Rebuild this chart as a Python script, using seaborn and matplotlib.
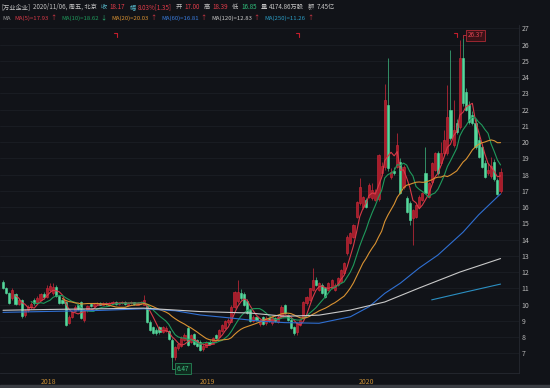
import numpy as np
import pandas as pd
import matplotlib
matplotlib.use("Agg")
import matplotlib.pyplot as plt
import seaborn as sns

# weekly candles, 万业企业, ~Sep 2017 .. 2020/11/06
opens = [11.40, 11.00, 10.72, 10.40, 10.62, 10.05, 10.28, 9.35, 9.65, 9.85,
         10.28, 10.10, 10.30, 10.68, 10.45, 10.90, 10.70, 11.10, 10.50, 10.28,
         10.18, 8.85, 9.25, 9.60, 9.95, 10.18, 9.05, 9.65, 10.05, 9.92,
         10.02, 10.12, 10.00, 10.12, 10.00, 10.10, 10.16, 10.02, 10.10, 10.15,
         10.00, 10.08, 10.15, 10.00, 10.10, 9.98, 9.90, 8.95, 8.60, 8.45,
         8.62, 8.30, 8.40, 8.35, 7.80, 6.78, 7.30, 7.45, 7.80, 8.55,
         7.72, 8.20, 7.80, 7.70, 7.25, 7.42, 7.72, 7.60, 8.12, 8.02,
         8.35, 8.55, 8.90, 8.95, 9.85, 10.20, 10.70, 10.65, 10.25, 9.65,
         9.00, 9.25, 8.78, 9.25, 8.85, 9.18, 8.85, 9.20, 8.90, 9.25,
         9.97, 9.36, 9.05, 8.64, 8.33, 8.74, 9.15, 10.08, 10.28, 10.90,
         11.51, 10.90, 11.20, 11.00, 10.90, 11.00, 10.90, 11.20, 11.41, 11.92,
         13.15, 13.77, 14.18, 15.41, 16.23, 16.02, 16.43, 16.64, 16.54, 16.45,
         16.50, 18.10, 18.48, 22.28, 17.87, 18.20, 18.48, 18.79, 17.25, 16.54,
         16.23, 15.30, 15.40, 16.02, 16.43, 18.08, 16.64, 17.56, 18.28, 19.30,
         18.69, 19.30, 19.30, 21.97, 19.82, 21.15, 20.94, 25.15, 23.10, 22.28,
         21.66, 21.15, 20.13, 19.71, 18.69, 18.08, 17.90, 18.79, 17.66, 17.00]
highs = [11.50, 11.10, 10.80, 11.00, 10.70, 10.40, 10.35, 9.75, 9.95, 10.15,
         10.40, 10.50, 10.72, 10.75, 11.20, 11.33, 11.30, 11.20, 10.60, 10.35,
         10.25, 9.35, 9.60, 9.95, 10.05, 10.25, 9.70, 9.98, 10.12, 10.12,
         10.15, 10.18, 10.15, 10.18, 10.16, 10.22, 10.20, 10.16, 10.20, 10.22,
         10.14, 10.20, 10.18, 10.16, 10.22, 10.59, 10.00, 9.05, 8.70, 8.55,
         8.70, 8.70, 8.68, 8.45, 7.95, 7.45, 7.65, 8.05, 8.25, 8.70,
         8.20, 8.28, 7.90, 7.80, 7.55, 7.78, 7.80, 7.98, 8.20, 8.48,
         8.78, 9.05, 9.20, 9.95, 10.85, 11.50, 10.95, 10.80, 10.35, 9.75,
         9.35, 9.30, 9.10, 9.32, 9.28, 9.25, 9.30, 9.25, 9.35, 9.95,
         10.05, 9.45, 9.15, 8.70, 8.90, 9.10, 10.25, 10.55, 11.05, 12.23,
         11.70, 11.40, 11.30, 11.10, 11.40, 11.60, 11.30, 11.70, 12.20, 12.60,
         14.25, 14.45, 14.95, 16.40, 17.77, 16.70, 16.55, 17.45, 17.46, 17.10,
         19.25, 18.80, 23.60, 25.15, 18.40, 18.45, 20.54, 19.00, 18.60, 16.70,
         16.35, 15.90, 16.20, 16.75, 16.95, 19.70, 17.55, 18.75, 19.40, 19.45,
         20.00, 20.74, 23.50, 25.66, 22.59, 21.40, 26.28, 26.37, 23.30, 22.50,
         21.90, 21.40, 20.40, 19.90, 18.90, 18.70, 19.10, 18.95, 17.80, 18.39]
lows = [10.95, 10.62, 10.05, 10.30, 9.98, 9.98, 9.20, 9.25, 9.55, 9.75,
        10.00, 10.05, 10.25, 10.35, 10.40, 10.80, 10.60, 10.45, 10.05, 10.02,
        8.70, 8.80, 9.15, 9.55, 9.65, 9.10, 8.95, 9.55, 9.85, 9.85,
        9.95, 9.95, 9.95, 9.96, 9.92, 10.02, 9.98, 9.96, 10.04, 9.98,
        9.94, 10.02, 9.96, 9.95, 10.05, 9.95, 8.85, 8.40, 8.20, 8.15,
        8.22, 8.25, 8.30, 7.85, 6.47, 6.60, 7.20, 7.40, 7.75, 7.45,
        7.65, 7.50, 7.40, 7.15, 7.15, 7.38, 7.50, 7.55, 7.88, 7.98,
        8.30, 8.50, 8.80, 8.90, 9.80, 10.10, 10.30, 9.90, 9.40, 8.92,
        8.90, 9.00, 8.70, 8.75, 8.75, 8.95, 8.75, 8.95, 8.85, 9.20,
        9.40, 9.00, 8.50, 8.12, 8.10, 8.68, 9.10, 10.00, 10.20, 10.85,
        11.15, 10.85, 10.65, 10.42, 10.85, 10.95, 10.85, 11.15, 11.38, 11.88,
        13.05, 13.70, 14.10, 15.35, 16.15, 15.90, 15.95, 16.55, 16.45, 16.35,
        16.40, 17.90, 18.30, 18.20, 17.70, 17.95, 18.40, 16.80, 17.10, 15.65,
        14.90, 13.67, 15.30, 15.95, 16.35, 16.80, 16.55, 17.50, 18.20, 18.00,
        18.60, 19.20, 19.20, 20.10, 19.70, 20.50, 20.80, 22.20, 21.90, 21.10,
        21.05, 19.60, 19.00, 18.40, 17.80, 17.95, 17.80, 17.60, 16.75, 16.85]
closes = [11.00, 10.70, 10.12, 10.88, 10.02, 10.30, 9.28, 9.66, 9.85, 10.05,
          10.08, 10.40, 10.65, 10.45, 11.05, 11.15, 11.10, 10.50, 10.10, 10.08,
          8.75, 9.25, 9.55, 9.85, 9.72, 9.15, 9.65, 9.90, 9.92, 10.06,
          10.10, 10.00, 10.10, 10.02, 10.12, 10.16, 10.04, 10.12, 10.15, 10.03,
          10.10, 10.15, 10.02, 10.12, 10.18, 10.28, 8.95, 8.45, 8.28, 8.25,
          8.30, 8.62, 8.55, 7.90, 6.75, 7.40, 7.55, 7.95, 8.15, 7.52,
          8.13, 7.55, 7.45, 7.22, 7.48, 7.70, 7.58, 7.92, 7.92, 8.42,
          8.72, 8.98, 9.05, 9.85, 10.75, 10.78, 10.40, 9.95, 9.48, 8.98,
          9.25, 9.05, 9.02, 8.80, 9.20, 9.00, 9.22, 9.00, 9.25, 9.88,
          9.46, 9.05, 8.54, 8.23, 8.85, 9.05, 10.18, 10.48, 11.00, 11.51,
          11.20, 11.31, 10.69, 10.48, 11.31, 11.51, 11.20, 11.61, 12.13, 12.54,
          14.18, 14.38, 14.90, 16.33, 17.25, 16.64, 16.02, 17.36, 17.05, 16.95,
          19.20, 18.50, 22.60, 18.38, 18.17, 18.10, 19.82, 16.85, 18.48, 15.72,
          15.20, 15.80, 16.10, 16.64, 16.85, 16.85, 17.46, 18.69, 19.30, 18.08,
          19.30, 20.13, 21.56, 20.23, 20.74, 20.64, 25.15, 22.38, 21.97, 21.25,
          21.15, 19.71, 19.10, 18.48, 17.87, 18.30, 18.55, 17.75, 16.82, 18.17]

# long averages: (bar index, value)
ma60_idx = [0, 15, 31, 45, 55, 63, 73, 82, 90, 101, 111, 117, 122, 127, 133, 139, 147, 152, 159]
ma60_val = [9.52, 9.58, 9.64, 9.74, 9.62, 9.36, 9.17, 8.98, 8.89, 8.85, 9.25, 9.87,
            10.69, 11.32, 12.25, 13.05, 14.45, 15.52, 16.81]
ma120_idx = [0, 15, 31, 45, 63, 79, 90, 101, 111, 122, 133, 146, 159]
ma120_val = [9.65, 9.70, 9.74, 9.78, 9.57, 9.48, 9.28, 9.35, 9.66, 10.16, 11.02, 12.00, 12.83]
ma250_idx = [137, 148, 159]
ma250_val = [10.29, 10.78, 11.26]

year_pos = [14.6, 65.4, 116.3]
year_labels = ["2018", "2019", "2020"]
price_ticks = list(range(7, 28))
high_bar, high_val = 147, 26.37
low_bar, low_val = 54, 6.47
flag_pos = [36.4, 94.6, 145.0]

BG = "#111318"
UP = "#d42b3b"
UP_FILL = "#a81c2a"
DOWN = "#55d89c"
W, H = 550, 388

sns.set_theme(style="dark", rc={"axes.facecolor": BG, "figure.facecolor": BG})
plt.rcParams['font.family'] = ['Noto Sans CJK SC', 'DejaVu Sans']

df = pd.DataFrame({"open": opens, "high": highs, "low": lows, "close": closes})
df["i"] = np.arange(len(df))
df["up"] = df["close"] >= df["open"]
df["ma5"] = df["close"].rolling(5).mean()
df["ma10"] = df["close"].rolling(10).mean()
df["ma20"] = df["close"].rolling(20).mean()

fig = plt.figure(figsize=(W / 100, H / 100), dpi=100)
ax = fig.add_axes([0, 15 / H, 519 / W, 348 / H])

# candles
for up, face, edge, wick in [(True, UP_FILL, UP, UP), (False, DOWN, DOWN, "#3fbf84")]:
    d = df[df["up"] == up]
    ax.vlines(d["i"], d["low"], d["high"], color=wick, linewidth=0.5, zorder=2)
    body = (d["close"] - d["open"]).abs().clip(lower=0.04)
    ax.bar(d["i"], body, bottom=d[["open", "close"]].min(axis=1), width=0.68,
           color=face, edgecolor=edge, linewidth=0.4, zorder=3)

# moving averages
ma_style = [("ma5", "#d83a48"), ("ma10", "#1f9a5c"), ("ma20", "#d99232")]
for col, c in ma_style:
    d = df[["i", col]].dropna()
    sns.lineplot(x=d["i"], y=d[col], ax=ax, color=c, linewidth=0.8, zorder=4)
sns.lineplot(x=ma60_idx, y=ma60_val, ax=ax, color="#2f6fd2", linewidth=0.8, zorder=4)
sns.lineplot(x=ma120_idx, y=ma120_val, ax=ax, color="#c9c9c9", linewidth=0.8, zorder=4)
sns.lineplot(x=ma250_idx, y=ma250_val, ax=ax, color="#2b8fc2", linewidth=0.8, zorder=4)

ax.set_xlim(-0.96, 164.9)
ax.set_ylim(5.79, 27.2)
ax.set_xlabel("")
ax.set_ylabel("")
ax.set_yticks(price_ticks)
ax.yaxis.tick_right()
ax.tick_params(axis="y", length=0, pad=2, labelsize=5, labelcolor="#b8b8b8")
ax.set_xticks(year_pos)
ax.set_xticklabels(year_labels)
ax.tick_params(axis="x", length=0, pad=3.5, labelsize=5, labelcolor="#c48c36")
ax.grid(axis="y", color="#1b1e25", linewidth=0.6)
ax.grid(axis="x", visible=False)
for s in ["top", "left"]:
    ax.spines[s].set_visible(False)
for s in ["right", "bottom"]:
    ax.spines[s].set_color("#262931")
    ax.spines[s].set_linewidth(0.6)

# high / low markers
ax.plot([high_bar, high_bar, high_bar + 1.4], [high_val, high_val + 0.2, high_val + 0.2],
        color="#c8303c", linewidth=0.6, zorder=5)
ax.text(high_bar + 1.6, high_val + 0.2, f"{high_val:.2f}", fontsize=4.6, color="#e04452",
        va="center", ha="left", zorder=6,
        bbox=dict(boxstyle="square,pad=0.25", fc="#3a1217", ec="#c8303c", lw=0.5))
ax.plot([low_bar, low_bar, low_bar + 1.4], [low_val, low_val - 0.42, low_val - 0.42],
        color="#2a9a62", linewidth=0.6, zorder=5)
ax.text(low_bar + 1.6, low_val - 0.42, f"{low_val:.2f}", fontsize=4.6, color="#3cc080",
        va="center", ha="left", zorder=6,
        bbox=dict(boxstyle="square,pad=0.25", fc="#0f2a1e", ec="#2a9a62", lw=0.5))
for fx in flag_pos:
    ax.plot([fx - 0.9, fx, fx], [26.72, 26.72, 26.45], color="#c41e2c", linewidth=0.8, zorder=5)

# header lines, laid out left to right
renderer = fig.canvas.get_renderer()

def put_row(y, items, size, x0=1):
    x = x0
    for gap, s, c in items:
        x += gap
        t = fig.text(x / W, 1 - y / H, s, color=c, fontsize=size, va="center", ha="left")
        x += t.get_window_extent(renderer).width

GREY = "#c4c4c4"
RED = "#e23c4a"
GREEN = "#2fc07c"
TEAL = "#55b4c6"
row1 = [(0, "[万业企业]", GREY), (3, "2020/11/06, 周五, 北京", GREY),
        (4, "收", TEAL), (2.5, "18.17", RED), (4, "幅", TEAL), (2.5, "8.03%[1.35]", RED),
        (4, "开", GREY), (2.5, "17.00", RED), (4, "高", GREY), (2.5, "18.39", RED),
        (4, "低", GREY), (2.5, "16.85", GREEN), (4, "量", GREY), (2.5, "4174.86万股", GREY),
        (4, "额", GREY), (2.5, "7.45亿", GREY)]
put_row(7, row1, 4.5)

row2 = [(1, "MA", "#9a9a9a"), (4, "MA(5)=17.93", "#d83a48"), (1.5, "↑", RED),
        (5, "MA(10)=18.62", "#1f9a5c"), (1.5, "↓", GREEN),
        (5, "MA(20)=20.03", "#d99232"), (1.5, "↑", RED),
        (5, "MA(60)=16.81", "#3a7de0"), (1.5, "↑", RED),
        (5, "MA(120)=12.83", "#c9c9c9"), (1.5, "↑", RED),
        (5, "MA(250)=11.26", "#2b9cc4"), (1.5, "↑", RED)]
put_row(18, row2, 4.35)

fig.add_artist(plt.Rectangle((0, 0), 1, 3 / H, transform=fig.transFigure,
                             color="#3a3d43", zorder=0))

fig.savefig("out.png", dpi=100, facecolor=BG)
